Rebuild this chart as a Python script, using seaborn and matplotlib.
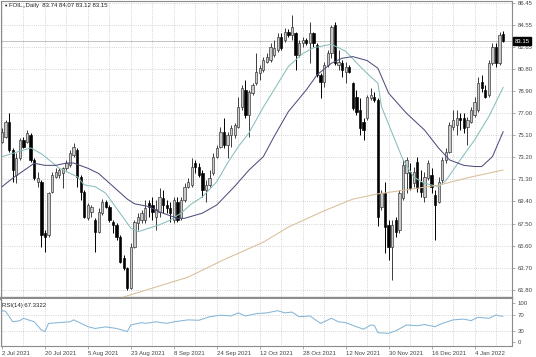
import numpy as np
import pandas as pd
import matplotlib
matplotlib.use("Agg")
import matplotlib.pyplot as plt
import seaborn as sns

# ---- daily OHLC, one entry per bar ----
opens = [74.54, 74.97, 76.25, 73.82, 71.67, 73.10, 74.68, 74.54, 75.11, 72.96,
         71.10, 71.10, 66.66, 66.52, 70.24, 71.53, 71.67, 71.88, 72.25, 72.53,
         73.39, 73.82, 71.53, 70.24, 67.95, 68.53, 67.81, 66.81, 68.38, 69.38,
         68.96, 67.67, 67.38, 66.38, 64.52, 63.66, 61.94, 65.52, 67.53, 67.81,
         67.81, 69.24, 69.10, 68.10, 68.53, 69.67, 69.10, 68.81, 67.81, 69.39,
         67.95, 69.53, 70.67, 70.82, 72.67, 72.39, 71.82, 70.39, 70.82, 71.82,
         73.25, 74.11, 75.40, 74.25, 75.11, 75.11, 75.83, 77.55, 78.98, 76.83,
         78.70, 79.55, 80.41, 80.70, 81.41, 81.56, 81.98, 82.42, 83.56, 83.27,
         83.99, 83.70, 83.85, 81.98, 82.99, 83.27, 82.99, 83.85, 82.85, 80.27,
         79.70, 81.13, 82.13, 84.56, 81.13, 81.27, 80.55, 80.98, 79.55, 78.41,
         77.26, 76.26, 76.55, 78.27, 78.41, 78.12, 68.96, 70.10, 67.38, 65.52,
         67.81, 66.95, 69.67, 71.82, 71.96, 70.96, 72.82, 71.10, 69.81, 71.39,
         71.67, 69.96, 69.39, 71.24, 72.96, 73.68, 75.83, 75.97, 76.55, 76.55,
         75.83, 76.26, 76.83, 77.26, 79.69, 78.98, 78.55, 81.27, 82.70, 81.27,
         83.74]
highs = [75.68, 76.40, 76.97, 73.96, 73.53, 74.82, 74.96, 75.54, 75.25, 73.10,
         71.96, 71.24, 66.95, 70.24, 71.96, 72.24, 72.24, 72.39, 72.96, 73.82,
         74.39, 73.96, 71.67, 70.39, 69.30, 69.10, 67.95, 68.81, 69.58, 69.53,
         69.10, 67.81, 67.52, 66.52, 64.80, 63.80, 65.80, 67.81, 68.39, 68.67,
         69.53, 69.53, 69.82, 69.53, 70.53, 70.39, 69.53, 69.39, 69.82, 69.82,
         69.82, 70.96, 71.39, 73.11, 72.96, 72.67, 72.10, 71.24, 72.10, 73.54,
         74.25, 75.83, 76.55, 75.40, 75.97, 76.12, 78.41, 79.41, 79.84, 78.98,
         79.55, 82.13, 81.13, 81.84, 82.13, 82.99, 83.27, 83.85, 83.85, 84.28,
         84.20, 85.42, 83.99, 83.27, 83.56, 83.42, 84.85, 83.99, 82.99, 80.41,
         81.41, 82.42, 84.56, 84.85, 82.42, 81.56, 81.41, 81.13, 79.70, 78.98,
         78.27, 76.55, 78.55, 79.12, 78.84, 78.26, 70.39, 71.10, 67.81, 67.81,
         68.10, 70.39, 72.96, 73.25, 72.68, 72.39, 73.25, 72.10, 71.96, 72.96,
         72.25, 70.39, 71.53, 73.25, 73.97, 76.26, 77.26, 77.26, 76.97, 76.97,
         76.69, 77.55, 78.41, 80.12, 80.27, 79.41, 81.55, 82.99, 82.99, 83.99,
         84.07]
lows = [74.39, 74.82, 73.68, 71.10, 70.96, 72.96, 73.96, 74.39, 72.82, 71.24,
        70.67, 65.52, 65.09, 66.38, 70.10, 71.39, 71.40, 70.53, 72.10, 72.39,
        73.25, 70.67, 69.53, 67.95, 67.81, 68.10, 65.09, 66.66, 68.24, 68.81,
        67.67, 66.66, 66.09, 64.09, 63.52, 61.80, 61.85, 65.38, 66.95, 67.53,
        67.53, 68.10, 67.81, 66.95, 68.10, 68.39, 68.39, 67.67, 67.53, 67.67,
        67.81, 69.39, 70.53, 70.67, 71.82, 71.53, 69.82, 69.39, 70.67, 71.67,
        73.11, 73.97, 73.97, 73.11, 74.11, 74.83, 75.69, 77.26, 76.55, 74.97,
        78.55, 79.41, 79.84, 80.55, 81.27, 81.41, 81.84, 82.27, 82.42, 83.13,
        83.56, 83.27, 80.70, 81.84, 82.70, 82.85, 81.27, 82.70, 80.13, 78.27,
        79.27, 80.98, 81.70, 81.13, 80.70, 80.13, 79.55, 80.41, 77.26, 76.83,
        75.11, 74.68, 76.40, 78.12, 77.98, 67.30, 68.67, 64.95, 64.38, 62.66,
        66.38, 66.66, 69.53, 70.10, 70.39, 70.67, 70.24, 69.81, 69.39, 71.24,
        70.10, 66.09, 69.24, 70.96, 72.68, 73.54, 75.54, 75.11, 75.54, 75.26,
        74.25, 76.12, 76.69, 77.12, 78.83, 78.26, 78.41, 81.13, 80.98, 81.13,
        83.12]
closes = [75.39, 76.25, 73.82, 72.10, 73.10, 74.68, 74.11, 75.25, 72.96, 71.39,
          71.39, 66.52, 66.38, 70.10, 71.67, 71.96, 72.10, 72.25, 72.68, 73.54,
          74.11, 71.53, 70.24, 68.10, 69.10, 68.96, 66.81, 68.53, 69.38, 68.96,
          67.81, 67.38, 66.38, 64.23, 63.66, 61.94, 65.52, 67.67, 68.10, 68.38,
          68.81, 68.96, 68.53, 68.75, 69.82, 69.10, 68.81, 68.39, 69.53, 67.81,
          69.53, 70.67, 71.10, 72.39, 72.39, 71.67, 70.39, 70.82, 71.39, 73.25,
          73.96, 75.40, 74.25, 75.11, 75.68, 75.97, 77.55, 79.12, 76.83, 78.84,
          79.41, 80.55, 80.84, 81.56, 81.84, 82.70, 82.56, 83.56, 82.56, 83.99,
          83.70, 84.42, 81.98, 82.99, 83.27, 82.99, 83.85, 82.99, 80.27, 79.70,
          81.13, 82.13, 84.42, 81.27, 81.41, 80.70, 80.98, 80.55, 77.41, 77.12,
          75.69, 75.54, 78.41, 78.55, 78.12, 68.10, 70.10, 67.24, 65.52, 67.38,
          66.81, 70.10, 72.53, 72.96, 70.53, 71.96, 70.53, 70.24, 71.53, 72.68,
          70.67, 69.10, 71.10, 72.96, 73.68, 75.97, 76.40, 76.55, 76.40, 75.69,
          76.40, 77.26, 77.98, 79.55, 79.12, 78.41, 81.27, 82.70, 81.27, 83.70,
          83.15]

# ---- moving averages, read at sample bars ----
ma_fast_bar = [0, 8, 11, 16, 21, 23, 26, 29, 33, 36, 38, 44, 47, 50, 53, 56, 60, 63, 66, 69,
               73, 76, 80, 84, 87, 92, 96, 100, 103, 105, 106, 109, 112, 115, 118, 122, 124,
               128, 132, 136, 140]
ma_fast_val = [73.25, 74.0, 73.5, 72.25, 71.53, 70.82, 70.67, 70.10, 68.38, 67.1, 66.8, 67.4,
               67.8, 68.4, 69.2, 69.8, 71.1, 72.7, 74.1, 75.3, 77.5, 79.0, 81.0, 82.1, 82.6,
               82.9, 82.3, 81.0, 80.1, 79.55, 77.55, 75.26, 73.0, 71.5, 70.96, 70.67, 71.2,
               72.97, 74.68, 76.7, 79.2]
ma_slow_bar = [0, 3, 7, 9, 12, 15, 18, 20, 24, 27, 31, 35, 37, 41, 44, 49, 51, 56, 60, 65,
               69, 73, 76, 80, 85, 88, 92, 95, 98, 102, 105, 108, 113, 118, 122, 125, 129,
               132, 134, 137, 140]
ma_slow_val = [70.67, 71.4, 72.25, 72.68, 72.5, 72.5, 72.7, 72.7, 72.25, 71.8, 70.7, 69.6,
               69.2, 68.96, 68.5, 67.95, 67.95, 68.4, 69.1, 70.7, 72.1, 73.25, 74.97, 77.12,
               78.98, 80.27, 81.27, 81.7, 81.84, 81.5, 80.84, 78.7, 76.97, 75.54, 73.97,
               72.97, 72.5, 72.4, 72.4, 73.25, 75.4]
ma_long_bar = [34, 52, 62, 73, 80, 90, 98, 105, 113, 122, 131, 140]
ma_long_val = [61.2, 62.9, 64.4, 65.9, 67.2, 68.6, 69.6, 70.05, 70.4, 70.8, 71.5, 72.1]

# ---- RSI(14) ----
rsi_bar = [0, 1, 3, 5, 6, 9, 11, 12, 13, 16, 19, 20, 23, 24, 26, 29, 32, 35, 36, 39,
           40, 43, 46, 48, 52, 55, 58, 61, 64, 66, 68, 71, 74, 77, 79, 81, 83, 86, 89, 92,
           94, 96, 99, 101, 103, 104, 105, 108, 110, 113, 116, 118, 121, 123, 126, 129,
           131, 133, 136, 138, 139, 140]
rsi_val = [81.6, 80, 53, 56, 62, 53, 32, 28, 49, 51, 53, 58, 45, 40.5, 36, 40, 36, 28, 45, 51,
           49, 53, 49, 53, 58, 57, 66, 70, 68, 76, 68, 74, 76, 81.5, 76, 78, 66, 68, 49, 62,
           53, 51, 40.5, 34, 45, 44, 25, 23.5, 30, 45, 43, 46, 40.5, 49, 58, 60, 56, 64.6,
           62, 70.5, 68, 67.33]
rsi_last = "67.3322"
rsi_levels = [70, 30]

# ---- axis labels ----
date_labels = ["2 Jul 2021", "20 Jul 2021", "5 Aug 2021", "23 Aug 2021", "8 Sep 2021",
               "24 Sep 2021", "12 Oct 2021", "28 Oct 2021", "12 Nov 2021", "30 Nov 2021",
               "16 Dec 2021", "4 Jan 2022"]
date_label_bars = [0, 12, 24, 36, 48, 60, 72, 84, 96, 108, 120, 132]
price_ticks = ["86.45", "84.55", "82.65", "80.80", "78.90", "77.00", "75.10", "73.20",
               "71.30", "69.40", "67.50", "65.60", "63.70", "61.80"]
rsi_ticks = ["100", "70", "30", "0"]
symbol = "FOIL,,Daily"

sns.set_theme(style="white")
plt.rcParams["font.family"] = ["Liberation Sans", "DejaVu Sans"]

W, H = 536.0, 357.0
fig = plt.figure(figsize=(W / 100, H / 100), dpi=100)
fig.patch.set_facecolor("white")


def px_box(x0, y0, x1, y1):
    # axes rectangle from pixel corners (origin top-left)
    return [x0 / W, 1 - y1 / H, (x1 - x0) / W, (y1 - y0) / H]


ax = fig.add_axes(px_box(0.5, 0.5, 511.5, 297.5))
ax_rsi = fig.add_axes(px_box(0.5, 298.5, 511.5, 345.5), sharex=ax)

grid_kw = dict(color="#c6c6c6", linestyle=(0, (1, 1.6)), linewidth=0.6)
frame = "#8a8a8a"
txt = "#444444"
fs = 4.3

# candles
o = np.array(opens)
h = np.array(highs)
l = np.array(lows)
c = np.array(closes)
bars = np.arange(len(o))
up = c >= o
ax.vlines(bars[up], l[up], h[up], colors="#3c3c3c", linewidth=0.7, zorder=3)
ax.vlines(bars[~up], l[~up], h[~up], colors="#000000", linewidth=0.7, zorder=3)
ax.bar(bars[up], (c - o)[up], bottom=o[up], width=0.64, color="#c9c9c9",
       edgecolor="#2e2e2e", linewidth=0.45, zorder=4)
ax.bar(bars[~up], (o - c)[~up], bottom=c[~up], width=0.64, color="#000000",
       edgecolor="#000000", linewidth=0.45, zorder=4)

# moving averages
sns.lineplot(x=ma_fast_bar, y=ma_fast_val, ax=ax, color="#86bfbb", linewidth=0.75, zorder=5)
sns.lineplot(x=ma_slow_bar, y=ma_slow_val, ax=ax, color="#4f4f7e", linewidth=0.75, zorder=5)
sns.lineplot(x=ma_long_bar, y=ma_long_val, ax=ax, color="#d9bf98", linewidth=0.75, zorder=5)

# bid line and price box
last_close = closes[-1]
ax.axhline(last_close, color="#c4c4c4", linewidth=0.7, zorder=1)
ax.annotate(f"{last_close:.2f}", xy=(1.0, last_close), xycoords=("axes fraction", "data"),
            xytext=(2, 0), textcoords="offset points", ha="left", va="center",
            fontsize=fs, color="white", annotation_clip=False,
            bbox=dict(boxstyle="square,pad=0.25", fc="black", ec="black"))

# main axis formatting (bar i sits at x = 2 + 3.58*i px)
ax.set_xlim((0.5 - 2) / 3.58, (511.5 - 2) / 3.58)
ax.set_ylim(61.15, 86.66)
ax.yaxis.tick_right()
ax.set_yticks([float(t) for t in price_ticks])
ax.set_yticklabels(price_ticks)
ax.set_xticks(date_label_bars)
ax.set_xticks([b + 6 for b in date_label_bars], minor=True)
ax.grid(True, which="both", **grid_kw)
ax.tick_params(axis="y", which="both", length=2.5, width=0.5, color=frame,
               labelsize=fs, labelcolor=txt, pad=2, right=True)
ax.tick_params(axis="x", which="both", length=0, labelbottom=False)
ax.set_xlabel("")
ax.set_ylabel("")
for side in ["left", "top", "right"]:
    ax.spines[side].set_color(frame)
    ax.spines[side].set_linewidth(0.8)
ax.spines["bottom"].set_color("#8c8c8c")
ax.spines["bottom"].set_linewidth(2.4)

# RSI panel
sns.lineplot(x=rsi_bar, y=rsi_val, ax=ax_rsi, color="#86b6d8", linewidth=0.75, zorder=5)
for lvl in rsi_levels:
    ax_rsi.axhline(lvl, **grid_kw)
ax_rsi.set_ylim(-7.7, 112.8)
ax_rsi.yaxis.tick_right()
ax_rsi.set_yticks([float(t) for t in rsi_ticks])
ax_rsi.set_yticklabels(rsi_ticks)
ax_rsi.grid(True, axis="x", which="both", **grid_kw)
ax_rsi.tick_params(axis="y", length=2.5, width=0.5, color=frame, labelsize=fs,
                   labelcolor=txt, pad=2)
ax_rsi.set_xticklabels(date_labels, ha="left")
ax_rsi.tick_params(axis="x", which="major", length=2.5, width=0.5, color=frame,
                   labelsize=fs, labelcolor=txt, pad=1.5, bottom=True)
ax_rsi.tick_params(axis="x", which="minor", length=0)
ax_rsi.set_xlabel("")
ax_rsi.set_ylabel("")
for side in ["left", "bottom", "right"]:
    ax_rsi.spines[side].set_color(frame)
    ax_rsi.spines[side].set_linewidth(0.8)
ax_rsi.spines["top"].set_visible(False)

# header texts
header = f"{opens[-1]:.2f} {highs[-1]:.2f} {lows[-1]:.2f} {closes[-1]:.2f}"
fig.text(3 / W, 1 - 6 / H, "\u25bc", fontsize=3.2, color="#222222", va="center")
fig.text(9 / W, 1 - 6 / H, f"{symbol}  {header}", fontsize=fs, color="#222222", va="center")
fig.text(2 / W, 1 - 305 / H, f"RSI(14) {rsi_last}", fontsize=fs, color="#222222", va="center")

fig.savefig("out.png", dpi=100, facecolor="white")
